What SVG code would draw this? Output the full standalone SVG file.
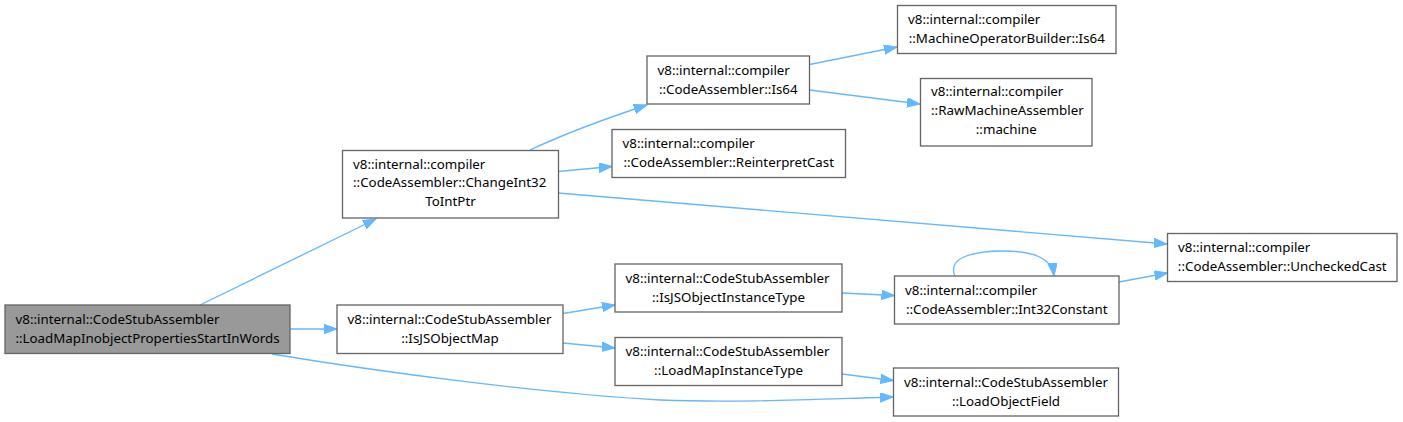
<svg xmlns="http://www.w3.org/2000/svg" width="1403" height="422" viewBox="0 0 1403 422">
<style>
.node rect{fill:#ffffff;stroke:#666666;stroke-width:1.33}
.node.main rect{fill:#999999}
text{font-family:"Noto Sans","Open Sans","DejaVu Sans",sans-serif;font-size:13.33px;fill:#000000}
.l{text-anchor:start}
.c{text-anchor:middle}
#edges path{fill:none;stroke:#63b8ff;stroke-width:1.33;marker-end:url(#ah)}
</style>
<defs>
<marker id="ah" markerUnits="userSpaceOnUse" markerWidth="14" markerHeight="11" refX="13" refY="4.7" orient="auto" viewBox="0 0 14 11">
<path d="M0,0 L13,4.7 L0,9.4 Z" fill="#63b8ff" stroke="#63b8ff" stroke-width="1"/>
</marker>
</defs>
<rect x="0" y="0" width="1403" height="422" fill="#ffffff"/>
<g id="edges">
<path d="M200,305 L376,219"/>
<path d="M290,329 L337,329"/>
<path d="M272,354 C380,372 540,393 660,400 C740,403 820,399 893,397"/>
<path d="M530,150 C560,136 595,122 647,105"/>
<path d="M558,171.5 L612,166.5"/>
<path d="M558,193 L1167,244"/>
<path d="M809.5,64.5 L897,47"/>
<path d="M809.5,90 L920,104"/>
<path d="M563,313.5 L615,305"/>
<path d="M563,343 L615,348"/>
<path d="M842,293 L894.5,295.5"/>
<path d="M1119,282 L1167.5,273"/>
<path d="M955,276 C947,258 972,251 1004,251 C1032,251 1052,258 1054,276"/>
<path d="M842,374 L893.5,380.5"/>
</g>
<g id="n0" class="node main">
<rect x="5" y="305" width="285" height="48.5"/>
<text class="l" x="15.5" y="323.5">v8::internal::CodeStubAssembler</text>
<text class="c" x="147.5" y="342.5">::LoadMapInobjectPropertiesStartInWords</text>
</g>
<g id="n1" class="node">
<rect x="342.5" y="150.5" width="216" height="67.5"/>
<text class="l" x="353" y="168.5">v8::internal::compiler</text>
<text class="l" x="353" y="187">::CodeAssembler::ChangeInt32</text>
<text class="c" x="450.5" y="206">ToIntPtr</text>
</g>
<g id="n2" class="node">
<rect x="647" y="56" width="162.5" height="48"/>
<text class="l" x="657.5" y="74.5">v8::internal::compiler</text>
<text class="c" x="728.25" y="93.5">::CodeAssembler::Is64</text>
</g>
<g id="n3" class="node">
<rect x="897.5" y="5.5" width="218.5" height="48"/>
<text class="l" x="908" y="24">v8::internal::compiler</text>
<text class="c" x="1006.75" y="43">::MachineOperatorBuilder::Is64</text>
</g>
<g id="n4" class="node">
<rect x="920.5" y="78.5" width="171.5" height="67.5"/>
<text class="l" x="931" y="96">v8::internal::compiler</text>
<text class="l" x="931" y="114.5">::RawMachineAssembler</text>
<text class="c" x="1006.25" y="133.5">::machine</text>
</g>
<g id="n5" class="node">
<rect x="612" y="129.5" width="233.5" height="48"/>
<text class="l" x="622.5" y="148">v8::internal::compiler</text>
<text class="c" x="728.75" y="167">::CodeAssembler::ReinterpretCast</text>
</g>
<g id="n6" class="node">
<rect x="1167.5" y="233.5" width="229.5" height="48"/>
<text class="l" x="1178" y="252">v8::internal::compiler</text>
<text class="c" x="1282.25" y="271">::CodeAssembler::UncheckedCast</text>
</g>
<g id="n7" class="node">
<rect x="337" y="305" width="226" height="48.5"/>
<text class="l" x="347.5" y="323.5">v8::internal::CodeStubAssembler</text>
<text class="c" x="450" y="342.5">::IsJSObjectMap</text>
</g>
<g id="n8" class="node">
<rect x="615" y="264" width="227" height="48"/>
<text class="l" x="625.5" y="282.5">v8::internal::CodeStubAssembler</text>
<text class="c" x="728.5" y="301.5">::IsJSObjectInstanceType</text>
</g>
<g id="n9" class="node">
<rect x="894.5" y="276" width="224.5" height="48"/>
<text class="l" x="905" y="294.5">v8::internal::compiler</text>
<text class="c" x="1006.75" y="313.5">::CodeAssembler::Int32Constant</text>
</g>
<g id="n10" class="node">
<rect x="615" y="337.5" width="227" height="48"/>
<text class="l" x="625.5" y="356">v8::internal::CodeStubAssembler</text>
<text class="c" x="728.5" y="375">::LoadMapInstanceType</text>
</g>
<g id="n11" class="node">
<rect x="893.5" y="368" width="225" height="48"/>
<text class="l" x="904" y="386.5">v8::internal::CodeStubAssembler</text>
<text class="c" x="1006" y="405.5">::LoadObjectField</text>
</g>
</svg>
